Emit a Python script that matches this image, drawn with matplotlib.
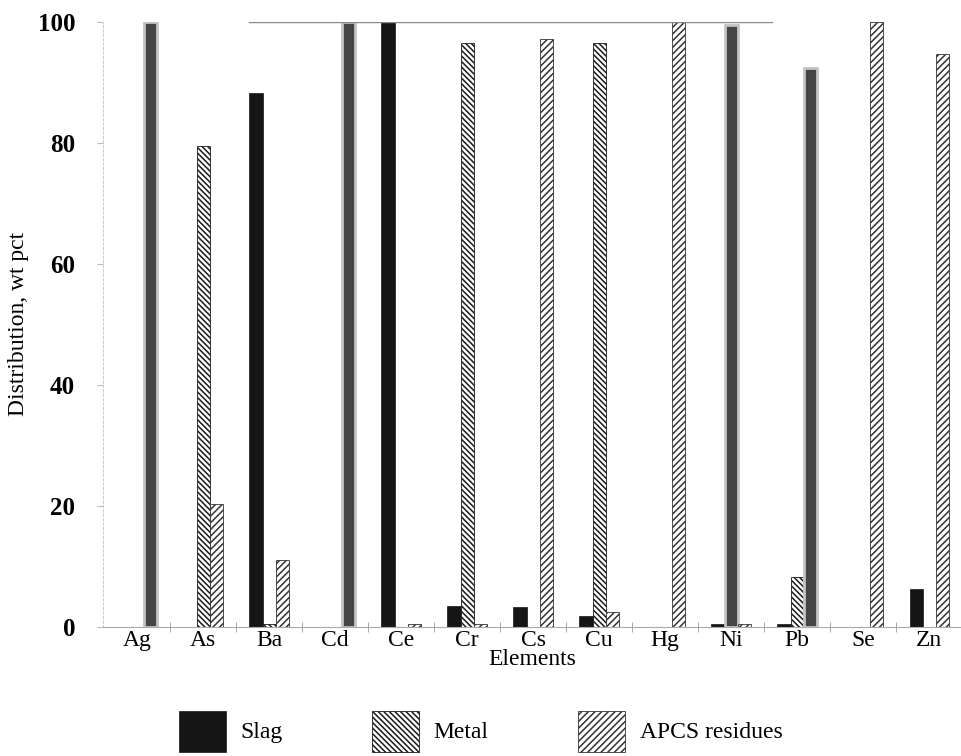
import matplotlib.pyplot as plt
import numpy as np

elements = ["Ag", "As", "Ba", "Cd", "Ce", "Cr", "Cs", "Cu", "Hg", "Ni", "Pb", "Se", "Zn"]
slag = [0, 0, 88.3, 0, 100, 3.5, 3.2, 1.7, 0, 0.5, 0.5, 0, 6.2]
metal = [0, 79.5, 0.5, 0, 0, 96.5, 0, 96.5, 0, 99.5, 8.2, 0, 0]
apcs = [100, 20.3, 11.0, 100, 0.5, 0.5, 97.2, 2.4, 100, 0.5, 92.3, 100, 94.7]
series_names = ["Slag", "Metal", "APCS residues"]
# bars that came out as solid grey in the scanned original
grey_bars = [("Ag", 2), ("Cd", 2), ("Ni", 1), ("Pb", 2)]

plt.rcParams["font.family"] = ["Liberation Serif", "DejaVu Serif"]
plt.rcParams["hatch.linewidth"] = 1.1

fig = plt.figure(figsize=(9.61, 7.56), dpi=100)
ax = fig.add_axes([0.107, 0.171, 0.893, 0.8])

x = np.arange(len(elements))
w = 0.2
bars = []
bars.append(ax.bar(x - w, slag, w, color="#151515", edgecolor="#151515", lw=0.5))
bars.append(ax.bar(x, metal, w, color="white", edgecolor="#1a1a1a", hatch="\\" * 6, lw=0.6))
bars.append(ax.bar(x + w, apcs, w, color="white", edgecolor="#333333", hatch="/" * 5, lw=0.6))

for el, k in grey_bars:
    p = bars[k][elements.index(el)]
    p.set_hatch(None)
    p.set_facecolor("#454545")
    p.set_edgecolor("#c4c4c4")
    p.set_linewidth(2)

ax.set_xlim(-0.52, 12.48)
ax.set_ylim(0, 100)
ax.set_xticks(x)
ax.set_xticklabels(elements, fontsize=17)
ax.set_xticks(x[:-1] + 0.5, minor=True)
ax.tick_params(axis="x", which="major", length=0, pad=2)
ax.tick_params(axis="x", which="minor", length=7, direction="inout", color="#999999")
ax.set_yticks([0, 20, 40, 60, 80, 100])
ax.tick_params(axis="y", labelsize=18, length=4, color="#bbbbbb", pad=16)
for lbl in ax.get_yticklabels():
    lbl.set_fontweight("bold")

for s in ["top", "right"]:
    ax.spines[s].set_visible(False)
ax.spines["left"].set_color("#cccccc")
ax.spines["left"].set_linestyle((0, (2, 2)))
ax.spines["bottom"].set_color("#aaaaaa")
ax.spines["bottom"].set_linewidth(0.8)
ax.axhline(100, xmin=0.17, xmax=0.78, color="#888888", lw=1)

ax.set_xlabel("Elements", fontsize=17, labelpad=-1)
ax.set_ylabel("Distribution, wt pct", fontsize=17, labelpad=6)

handles = [bars[0][0], bars[1][1], bars[2][1]]
fig.legend(handles, series_names, loc="center", bbox_to_anchor=(0.5, 0.033),
           ncol=3, frameon=False, fontsize=17, handlelength=2.0, handleheight=2.3,
           handletextpad=0.6, columnspacing=3.8)

fig.savefig("out.png", dpi=100)
